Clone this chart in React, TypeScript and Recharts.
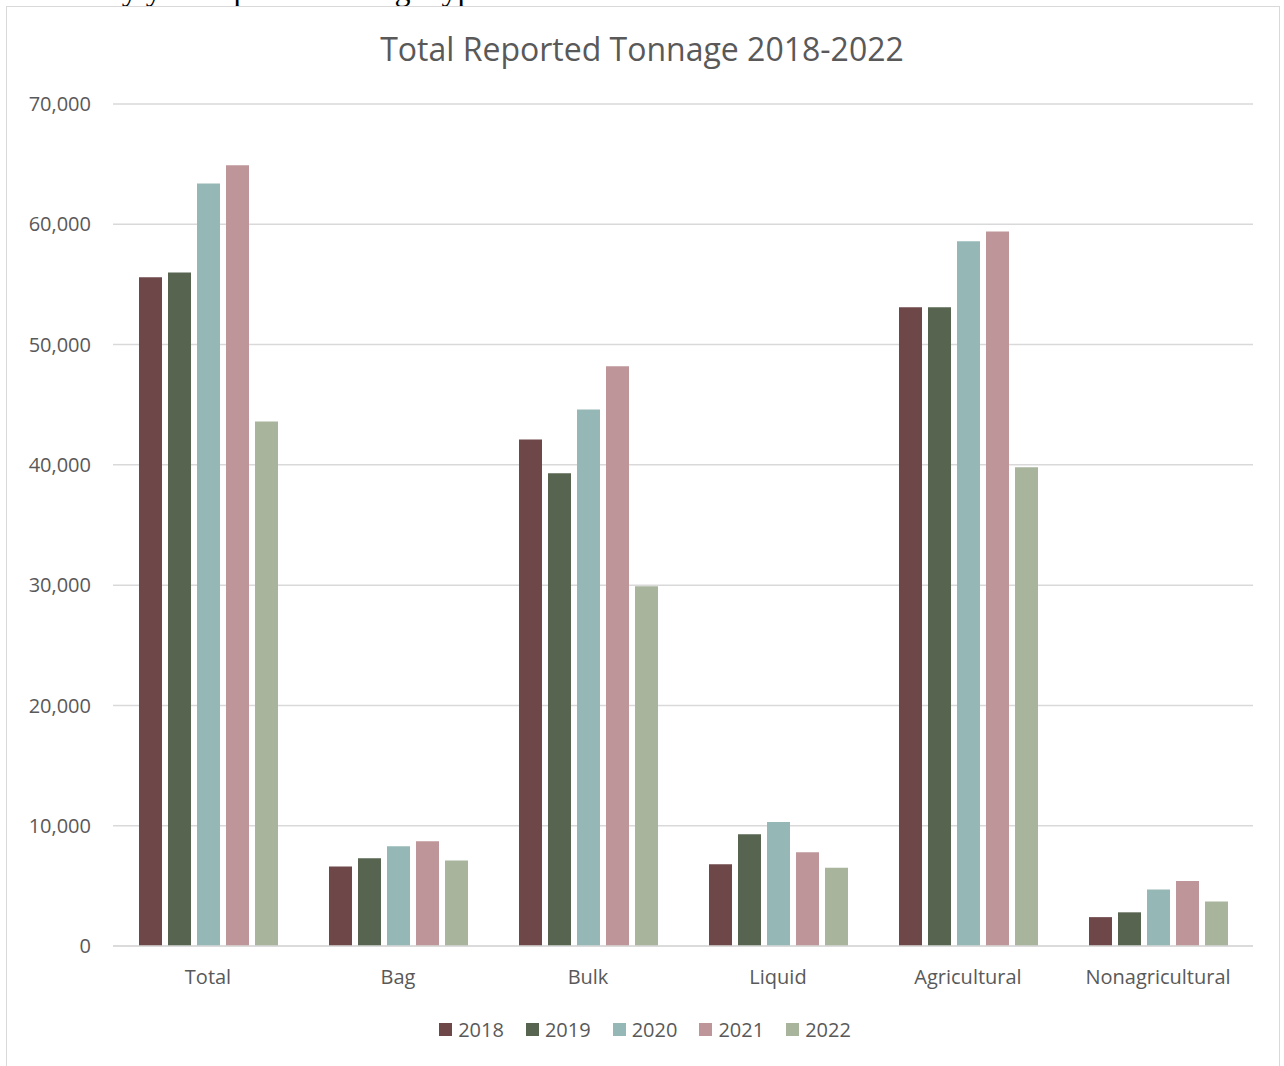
import React from 'react';
import { BarChart, Bar, XAxis, YAxis, CartesianGrid, Legend } from 'recharts';

const categories = ['Total', 'Bag', 'Bulk', 'Liquid', 'Agricultural', 'Nonagricultural'];
const years = ['2018', '2019', '2020', '2021', '2022'];
const v2018 = [55600, 6600, 42100, 6800, 53100, 2400];
const v2019 = [56000, 7300, 39300, 9300, 53100, 2800];
const v2020 = [63400, 8300, 44600, 10300, 58600, 4700];
const v2021 = [64900, 8700, 48200, 7800, 59400, 5400];
const v2022 = [43600, 7100, 29900, 6500, 39800, 3700];
const yTicks = [0, 10000, 20000, 30000, 40000, 50000, 60000, 70000];
const colors = ['#6e4748', '#566450', '#95b8b6', '#be9699', '#a8b49c'];

const seriesValues = [v2018, v2019, v2020, v2021, v2022];
const data = categories.map((c, i) => {
  const row: Record<string, any> = { name: c };
  years.forEach((y, k) => {
    row[y] = seriesValues[k][i];
  });
  return row;
});

const FONT = '"Open Sans", "Noto Sans", sans-serif';
const TEXT = '#595959';

const LegendContent = () => (
  <div style={{ display: 'flex', justifyContent: 'center', fontFamily: FONT, fontSize: 20, color: TEXT, paddingLeft: 6 }}>
    {years.map((y, k) => (
      <div key={y} style={{ display: 'flex', alignItems: 'center', marginRight: k < years.length - 1 ? 22 : 0 }}>
        <span style={{ display: 'inline-block', width: 13, height: 13, background: colors[k], marginRight: 6 }} />
        <span>{y}</span>
      </div>
    ))}
  </div>
);

export default function App() {
  return (
    <div style={{ position: 'absolute', left: 0, top: 0, width: 1284, height: 1066, overflow: 'hidden', background: '#fff' }}>
      <div style={{ position: 'absolute', left: 0, top: -29, fontFamily: '"Liberation Serif", serif', fontSize: 32, color: '#000', whiteSpace: 'nowrap' }}>
        each every year reported tonnage type and material.
      </div>
      <div style={{ position: 'absolute', left: 6, top: 6, width: 1274, height: 1080, border: '1.5px solid #d9d9d9', boxSizing: 'border-box', background: 'transparent' }} />
      <div style={{ position: 'absolute', left: 0, top: 27, width: 1284, textAlign: 'center', fontFamily: FONT, fontSize: 32, color: TEXT }}>
        Total Reported Tonnage 2018-2022
      </div>
      <div style={{ position: 'absolute', left: 0, top: 0 }}>
        <BarChart
          width={1284}
          height={1066}
          data={data}
          margin={{ top: 104, right: 31, bottom: 0, left: 8 }}
          barGap={6}
          barSize={23}
        >
          <CartesianGrid vertical={false} stroke="#d9d9d9" strokeWidth={1.5} />
          <XAxis
            dataKey="name"
            height={93}
            tickSize={0}
            tickMargin={24}
            axisLine={{ stroke: '#d9d9d9', strokeWidth: 1.5 }}
            tick={{ fill: TEXT, fontSize: 20, fontFamily: FONT }}
            interval={0}
          />
          <YAxis
            width={105}
            domain={[0, 70000]}
            ticks={yTicks}
            tickSize={0}
            tickMargin={22}
            axisLine={false}
            tickLine={false}
            tick={{ fill: TEXT, fontSize: 20, fontFamily: FONT }}
            tickFormatter={(v: number) => v.toLocaleString('en-US')}
          />
          <Legend
            content={<LegendContent />}
            wrapperStyle={{ position: 'absolute', top: 1016, left: 0, width: 1284, bottom: 'auto' }}
          />
          {years.map((y, k) => (
            <Bar key={y} dataKey={y} fill={colors[k]} isAnimationActive={false} />
          ))}
        </BarChart>
      </div>
    </div>
  );
}
